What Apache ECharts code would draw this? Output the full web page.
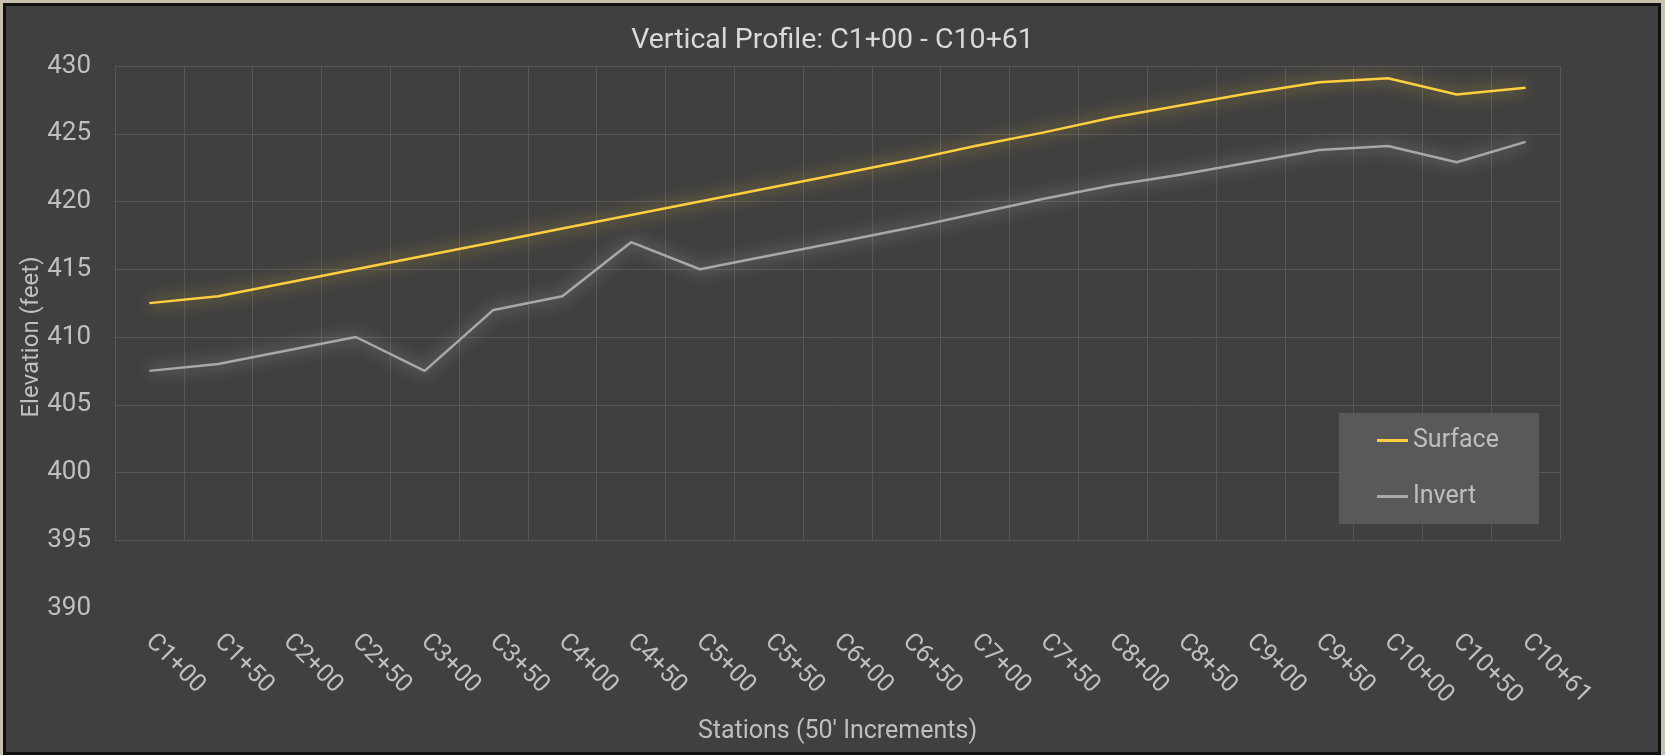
<!DOCTYPE html>
<html>
<head>
<meta charset="utf-8">
<title>Vertical Profile</title>
<script src="https://cdn.jsdelivr.net/npm/echarts@6/dist/echarts.min.js"></script>
<style>
  html, body { margin: 0; padding: 0; width: 1665px; height: 755px; overflow: hidden; background: #c9c1b0; }
  #frame {
    position: absolute; left: 3px; top: 3px; width: 1658px; height: 752px;
    box-sizing: border-box; border: 3px solid #111; background: #404040;
  }
  #chart { position: absolute; left: 0; top: 0; width: 1665px; height: 755px; }
</style>
</head>
<body>
<div id="frame"></div>
<div id="chart"></div>
<script>
// stations along the alignment
const stations = [
  'C1+00', 'C1+50', 'C2+00', 'C2+50', 'C3+00', 'C3+50', 'C4+00',
  'C4+50', 'C5+00', 'C5+50', 'C6+00', 'C6+50', 'C7+00', 'C7+50',
  'C8+00', 'C8+50', 'C9+00', 'C9+50', 'C10+00', 'C10+50', 'C10+61'
]
// elevations (feet)
const surface = [412.5, 413, 414, 415, 416, 417, 418, 419, 420, 421, 422, 423, 424.1, 425.1, 426.2, 427.1, 428, 428.8, 429.1, 427.9, 428.4]
const invert = [407.5, 408, 409, 410, 407.5, 412, 413, 417, 415, 416, 417, 418, 419.1, 420.2, 421.2, 422, 422.9, 423.8, 424.1, 422.9, 424.4]

const FONT = 'Roboto'
const TEXT = '#bfbfbf'
const GRID_LINE = '#575757'

const chart = echarts.init(document.getElementById('chart'), null, { renderer: 'canvas' })

chart.setOption({
  backgroundColor: 'transparent',
  textStyle: { fontFamily: FONT },
  title: {
    text: 'Vertical Profile: C1+00 - C10+61',
    left: 'center',
    top: 21,
    textStyle: { color: '#d9d9d9', fontSize: 28.5, fontWeight: 'normal', fontFamily: FONT }
  },
  legend: {
    orient: 'vertical',
    left: 1339,
    top: 413,
    padding: [15, 40, 15, 38],
    itemGap: 31,
    itemWidth: 31,
    itemHeight: 3,
    backgroundColor: '#595959',
    textStyle: { color: TEXT, fontSize: 25, fontFamily: FONT },
    data: [
      { name: 'Surface', icon: 'rect' },
      { name: 'Invert', icon: 'rect' }
    ]
  },
  grid: [
    // data + labels, 390..430
    { left: 115, right: 105, top: 66, bottom: 147, outerBoundsMode: 'none' },
    // gridlines only, 395..430
    { left: 115, right: 105, top: 66, bottom: 214.75, outerBoundsMode: 'none' }
  ],
  xAxis: [
    {
      gridIndex: 0,
      type: 'category',
      data: stations,
      boundaryGap: true,
      axisLine: { show: false },
      axisTick: { show: false },
      splitLine: { show: false },
      axisLabel: { color: TEXT, fontSize: 25, rotate: -45, interval: 0, margin: 30, fontFamily: FONT },
      name: "Stations (50' Increments)",
      nameLocation: 'middle',
      nameGap: 111,
      nameMoveOverlap: false,
      nameTextStyle: { color: TEXT, fontSize: 25, fontFamily: FONT }
    },
    {
      gridIndex: 1,
      type: 'category',
      data: stations,
      boundaryGap: true,
      axisLine: { show: false },
      axisTick: { show: false },
      axisLabel: { show: false },
      splitLine: { show: true, interval: 0, lineStyle: { color: GRID_LINE, width: 1 } }
    }
  ],
  yAxis: [
    {
      gridIndex: 0,
      type: 'value',
      min: 390,
      max: 430,
      interval: 5,
      axisLine: { show: false },
      axisTick: { show: false },
      splitLine: { show: false },
      axisLabel: { color: TEXT, fontSize: 26, margin: 24, fontFamily: FONT },
      name: 'Elevation (feet)',
      nameLocation: 'middle',
      nameGap: 71,
      nameRotate: 90,
      nameMoveOverlap: false,
      nameTextStyle: { color: TEXT, fontSize: 24, fontFamily: FONT }
    },
    {
      gridIndex: 1,
      type: 'value',
      min: 395,
      max: 430,
      interval: 5,
      axisLine: { show: false },
      axisTick: { show: false },
      axisLabel: { show: false },
      splitLine: { show: true, lineStyle: { color: GRID_LINE, width: 1 } }
    }
  ],
  series: [
    {
      name: 'Surface',
      type: 'line',
      xAxisIndex: 0,
      yAxisIndex: 0,
      data: surface,
      showSymbol: false,
      color: '#ffcf3f',
      lineStyle: { color: '#ffcf3f', width: 2.5, shadowBlur: 16, shadowColor: 'rgba(255, 205, 60, 0.8)' },
      z: 3
    },
    {
      name: 'Invert',
      type: 'line',
      xAxisIndex: 0,
      yAxisIndex: 0,
      data: invert,
      showSymbol: false,
      color: '#a8a8a8',
      lineStyle: { color: '#a8a8a8', width: 2.5, shadowBlur: 16, shadowColor: 'rgba(215, 215, 215, 0.75)' },
      z: 3
    }
  ]
})
</script>
</body>
</html>
